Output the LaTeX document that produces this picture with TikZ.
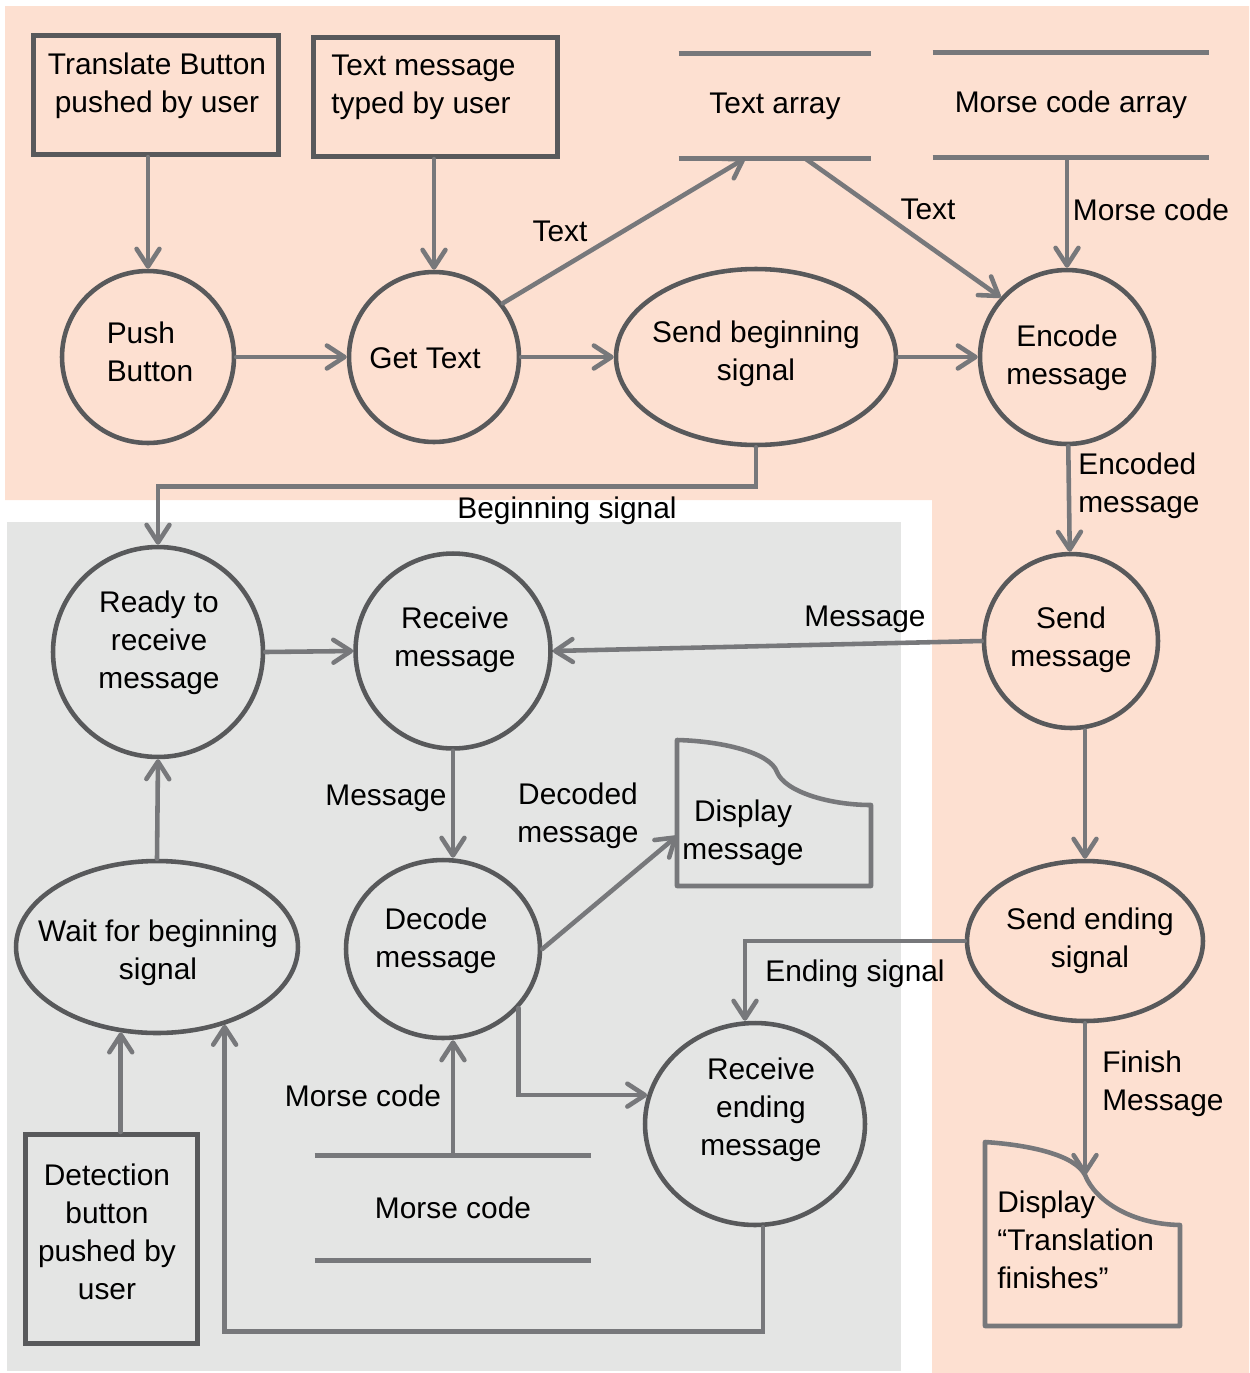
\documentclass[tikz,border=0pt]{standalone}
\usepackage{fontspec}
\setmainfont{Liberation Sans}
\usetikzlibrary{shapes.geometric,arrows.meta}
\definecolor{peach}{HTML}{FDE0D1}
\definecolor{paleg}{HTML}{E4E5E4}
\definecolor{edge}{HTML}{58595B}
\definecolor{wire}{HTML}{77787B}
\tikzset{
  txt/.style={font=\fontsize{17}{21.6}\selectfont, align=center, inner sep=0pt, yshift=-0.05cm},
  proc/.style={circle, draw=edge, line width=2.6pt, inner sep=0pt},
  oval/.style={ellipse, draw=edge, line width=2.6pt, inner sep=0pt},
  inbox/.style={rectangle, draw=edge, line width=2.9pt, inner sep=0pt},
  store/.style={font=\fontsize{17}{21.6}\selectfont, align=center, inner sep=0pt, minimum height=2.08cm},
  storeline/.style={draw=wire, line width=2.6pt},
  flow/.style={draw=wire, line width=2.6pt, line cap=round, -{Straight Barb[length=10pt,width=13pt,round]}},
  docline/.style={draw=wire, line width=2.6pt, line join=round},
}
\begin{document}
\begin{tikzpicture}[x=0.02cm,y=-0.02cm]
\useasboundingbox (0,0) rectangle (1249,1373);
\fill[peach] (5,6) -- (1249,6) -- (1249,1373) -- (932,1373) -- (932,500) -- (5,500) -- cycle;
\fill[paleg] (7,522) rectangle (901,1371);

\node[inbox, minimum width=4.9cm, minimum height=2.38cm] (trbox) at (156,95) {};
\node[txt] (trtxt) at (157,83) {Translate Button\\pushed by user};
\node[inbox, minimum width=4.88cm, minimum height=2.38cm] (txbox) at (435.5,97) {};
\node[txt, align=left, anchor=west] (txtxt) at (331,85) {Text message\\typed by user};
\node[inbox, minimum width=3.44cm, minimum height=4.18cm] (detbox) at (111.5,1239) {};
\node[txt] (dettxt) at (107,1229) {Detection\\button\\pushed by\\user};

\node[store, minimum width=3.84cm] (tarr) at (775,106) {Text array};
\draw[storeline] (tarr.north west) -- (tarr.north east) (tarr.south west) -- (tarr.south east);
\node[store, minimum width=5.52cm] (marr) at (1071,105) {Morse code array};
\draw[storeline] (marr.north west) -- (marr.north east) (marr.south west) -- (marr.south east);
\node[store, minimum width=5.52cm] (mstore) at (453,1208) {Morse code};
\draw[storeline] (mstore.north west) -- (mstore.north east) (mstore.south west) -- (mstore.south east);

\node[proc, minimum size=3.44cm] (pushb) at (148,357) {};
\node[txt, align=left] (pushbt) at (150,349) {Push\\Button};
\node[proc, minimum size=3.4cm] (gettext) at (434,357) {};
\node[txt] (gettextt) at (425,356) {Get Text};
\node[oval, minimum width=5.6cm, minimum height=3.52cm] (sendbeg) at (756,357) {};
\node[txt] (sendbegt) at (756,351) {Send beginning\\signal};
\node[proc, minimum size=3.48cm] (encode) at (1067,357) {};
\node[txt] (encodet) at (1067,355) {Encode\\message};
\node[proc, minimum size=3.48cm] (sendmsg) at (1071,641) {};
\node[txt] (sendmsgt) at (1071,637) {Send\\message};
\node[oval, minimum width=4.72cm, minimum height=3.2cm] (sendend) at (1085,941) {};
\node[txt] (sendendt) at (1090,938) {Send ending\\signal};
\node[proc, minimum size=4.2cm] (ready) at (158,652) {};
\node[txt] (readyt) at (159,640) {Ready to\\receive\\message};
\node[proc, minimum size=3.9cm] (recv) at (453,651) {};
\node[txt] (recvt) at (455,637) {Receive\\message};
\node[oval, minimum width=5.64cm, minimum height=3.44cm] (wait) at (157,947) {};
\node[txt] (waitt) at (158,950) {Wait for beginning\\signal};
\node[oval, minimum width=3.88cm, minimum height=3.56cm] (decode) at (443,949) {};
\node[txt] (decodet) at (436,938) {Decode\\message};
\node[oval, minimum width=4.4cm, minimum height=4.04cm] (recvend) at (755,1124) {};
\node[txt] (recvendt) at (761,1107) {Receive\\ending\\message};

\draw[docline] (677,740) .. controls (720,741) and (770,752) .. (777,772) .. controls (785,792) and (830,805) .. (871,805) -- (871,886) -- (677,886) -- cycle;
\coordinate (dmsgin) at (677,836);
\node[txt] (dmsg) at (743,830) {Display\\message};
\draw[docline] (985,1142) .. controls (1030,1145) and (1075,1155) .. (1085,1175) .. controls (1095,1200) and (1130,1224) .. (1180,1225) -- (1180,1326) -- (985,1326) -- cycle;
\coordinate (dfinin) at (1085,1175);
\node[txt, align=left, anchor=west] (dfin) at (997,1237) {Display\\“Translation\\finishes”};

\draw[flow] (trbox.south -| pushb.north) -- (pushb.north);
\draw[flow] (txbox.south -| gettext.north) -- (gettext.north);
\draw[flow] (pushb.east) -- (gettext.west);
\draw[flow] (gettext.38) -- ([xshift=-0.6cm]tarr.south);
\draw[flow] (gettext.east) -- (sendbeg.west);
\draw[flow] ([xshift=0.6cm]tarr.south) -- (encode.138);
\draw[flow] (encode.north |- marr.south) -- (encode.north);
\draw[flow] (sendbeg.east) -- (encode.west);
\draw[flow] (sendbeg.south) -- ++(0,39) -| (ready.north);
\draw[flow] (encode) -- (sendmsg);
\draw[flow] (sendmsg.west) -- (recv.east);
\draw[flow] (ready.east) -- (recv.west);
\draw[flow] (recv.south) -- (recv.south |- decode.north);
\draw[flow] (decode.east) -- (dmsgin);
\draw[flow] (sendend.north |- sendmsg.south) -- (sendend.north);
\draw[flow] (sendend.west) -| ([xshift=-0.2cm]recvend.north);
\draw[flow] (sendend.south) -- (dfinin);
\draw[flow] (decode.-38) |- (recvend.165);
\draw[flow] (mstore.north) -- (mstore.north |- decode.south);
\draw[flow] ([xshift=0.16cm]recvend.south) -- ++(0,104) -| (wait.-49);
\draw[flow] (wait.-113 |- detbox.north) -- (wait.-113);
\draw[flow] (wait.north) -- (ready.south);

\node[txt] (ltext1) at (560,229) {Text};
\node[txt] (ltext2) at (928,207) {Text};
\node[txt] (lmorse1) at (1151,207) {Morse code};
\node[txt] (lbeg) at (567,508) {Beginning signal};
\node[txt, align=left, anchor=west] (lenc) at (1078,483) {Encoded\\message};
\node[txt] (lmsg1) at (865,617) {Message};
\node[txt] (lmsg2) at (386,796) {Message};
\node[txt] (ldec) at (578,813) {Decoded\\message};
\node[txt] (lend) at (855,971) {Ending signal};
\node[txt, align=left, anchor=west] (lfin) at (1102,1081) {Finish\\Message};
\node[txt] (lmorse2) at (363,1093) {Morse code};
\end{tikzpicture}
\end{document}
